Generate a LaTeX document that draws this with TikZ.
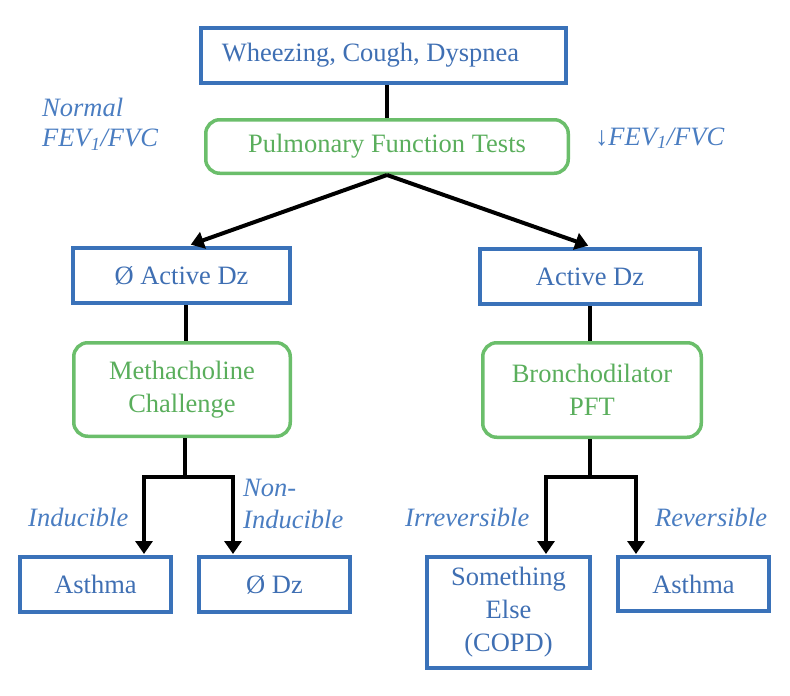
\documentclass[tikz,border=0pt]{standalone}
\usepackage{fontspec}
\setmainfont{Liberation Serif}
\usetikzlibrary{arrows.meta}
\definecolor{bbox}{HTML}{3A72B9}
\definecolor{btext}{HTML}{3F6FB3}
\definecolor{ilab}{HTML}{4A7DC1}
\definecolor{gbox}{HTML}{6BBE6B}
\definecolor{gtext}{HTML}{5AAE5C}
\begin{document}
\begin{tikzpicture}[x=1pt,y=-1pt,
  every node/.style={font=\fontsize{26.5}{33}\selectfont},
  bluebox/.style={draw=bbox,line width=4pt,text=btext,inner sep=0pt,align=center},
  greenbox/.style={draw=gbox,line width=3.5pt,text=gtext,rounded corners=14pt,inner sep=0pt,align=center},
  lbl/.style={text=ilab,inner sep=0pt,font=\fontsize{26.5}{30}\selectfont\itshape,align=left},
  conn/.style={draw=black,line width=4pt},
  arr/.style={conn,-{Triangle[length=13pt,width=17pt]}},
  arr2/.style={conn,{Triangle[length=13pt,width=17pt]}-{Triangle[length=13pt,width=17pt]}}]
\useasboundingbox (0,0) rectangle (790,696);

\node[bluebox,minimum width=365pt,minimum height=55pt] (top) at (383.5,55.5) {Wheezing, Cough, Dyspnea\hspace*{26pt}};
\node[greenbox,minimum width=362.5pt,minimum height=53.5pt] (pft) at (387,146.5) {Pulmonary Function Tests};
\node[bluebox,minimum width=217pt,minimum height=55pt] (lact) at (181.5,275.5) {Ø Active Dz};
\node[bluebox,minimum width=220pt,minimum height=55pt] (ract) at (590,276.5) {Active Dz};
\node[greenbox,minimum width=216.5pt,minimum height=93.5pt] (metha) at (182,389.5) {Methacholine\\Challenge};
\node[greenbox,minimum width=218.5pt,minimum height=94.5pt] (bron) at (592,390) {Bronchodilator\\PFT};
\node[bluebox,minimum width=151pt,minimum height=55pt] (asthL) at (95.5,584.5) {Asthma};
\node[bluebox,minimum width=151pt,minimum height=55pt] (nodz) at (274.5,584.5) {Ø Dz};
\node[bluebox,minimum width=163pt,minimum height=111pt] (some) at (508.5,612.5) {Something\\Else\\(COPD)};
\node[bluebox,minimum width=151pt,minimum height=54pt] (asthR) at (693.5,584) {Asthma};

\node[lbl,anchor=north west] (normal) at (42,98) {Normal\\FEV\textsubscript{1}/FVC};
\node[lbl,anchor=base west] (down) at (595,145) {↓FEV\textsubscript{1}/FVC};
\node[lbl,anchor=base west] (ind) at (28,526) {Inducible};
\node[lbl,anchor=north west,font=\fontsize{26.5}{32}\selectfont\itshape] (nonind) at (243,479) {Non-\\Inducible};
\node[lbl,anchor=base west] (irr) at (405,526) {Irreversible};
\node[lbl,anchor=base west] (rev) at (655,526) {Reversible};

\draw[conn] (pft.north) -- (pft.north |- top.south);
\draw[arr,shorten >=4pt] (pft.south) -- ([xshift=5.5pt]lact.north);
\draw[arr,shorten >=4pt] (pft.south) -- ([xshift=2pt]ract.north);
\draw[conn] ([xshift=4.5pt]lact.south) -- ([xshift=4.5pt]lact.south |- metha.north);
\draw[conn] (ract.south) -- (ract.south |- bron.north);

\coordinate (lj) at (185,477);
\coordinate (ljl) at (144,477);
\coordinate (ljr) at (233,477);
\draw[conn] (lj |- metha.south) -- (lj);
\draw[arr2,shorten >=1pt,shorten <=1pt] (ljl |- asthL.north) -- (ljl) -- (ljr) -- (ljr |- nodz.north);

\coordinate (rj) at (590,477);
\coordinate (rjl) at (546,477);
\coordinate (rjr) at (636,477);
\draw[conn] (rj |- bron.south) -- (rj);
\draw[arr2,shorten >=1pt,shorten <=1pt] (rjl |- some.north) -- (rjl) -- (rjr) -- (rjr |- asthR.north);
\end{tikzpicture}
\end{document}
